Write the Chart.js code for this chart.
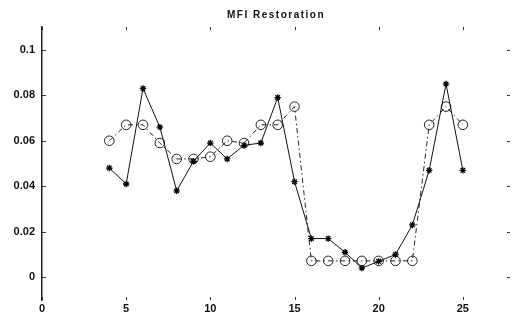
<!DOCTYPE html>
<html>
<head>
<meta charset="utf-8">
<script src="https://cdn.jsdelivr.net/npm/chart.js@4.4.1/dist/chart.umd.min.js"></script>
<style>
html,body{margin:0;padding:0;background:#fff;}
#wrap{width:516px;height:322px;}
</style>
</head>
<body>
<div id="wrap"><canvas id="c" width="516" height="322"></canvas></div>
<script>
const titleText = "MFI Restoration";
const xValues = [4,5,6,7,8,9,10,11,12,13,14,15,16,17,18,19,20,21,22,23,24,25];
const starSeries = [0.048,0.041,0.083,0.066,0.038,0.051,0.059,0.052,0.058,0.059,0.079,0.042,0.017,0.017,0.011,0.004,0.007,0.010,0.023,0.047,0.085,0.047];
const circleSeries = [0.060,0.067,0.067,0.059,0.052,0.052,0.053,0.060,0.059,0.067,0.067,0.075,0.0072,0.0072,0.0072,0.0072,0.0072,0.0072,0.0072,0.067,0.075,0.067];
const xTicks = [0,5,10,15,20,25];
const yTicks = [0,0.02,0.04,0.06,0.08,0.1];

const toPts = (ys) => xValues.map((x,i)=>({x:x,y:ys[i]}));

const tickMarks = {
  id:'tickMarks',
  afterLayout(chart){
    const tb = chart.titleBlock;
    if (tb && !tb._spaced) {
      const orig = tb.draw;
      tb.draw = function(a){
        const ctx = this.ctx || chart.ctx;
        ctx.save();
        ctx.letterSpacing = '1.5px';
        orig.call(this, a);
        ctx.restore();
      };
      tb._spaced = true;
    }
  },
  afterDraw(chart){
    const {ctx, chartArea:a, scales} = chart;
    ctx.save();
    ctx.strokeStyle = '#333';
    ctx.lineWidth = 1;
    ctx.beginPath();
    yTicks.forEach(v=>{
      const y = Math.round(scales.y.getPixelForValue(v))+0.5;
      ctx.moveTo(a.left, y); ctx.lineTo(a.left+4, y);
      ctx.moveTo(a.right, y); ctx.lineTo(a.right-3, y);
    });
    xTicks.forEach(v=>{
      const x = Math.round(scales.x.getPixelForValue(v))+0.5;
      ctx.moveTo(x, a.top); ctx.lineTo(x, a.top+3);
      ctx.moveTo(x, a.bottom); ctx.lineTo(x, a.bottom-3);
    });
    ctx.stroke();
    ctx.restore();
  }
};

new Chart(document.getElementById('c'), {
  type:'scatter',
  data:{
    datasets:[
      {
        label:'stars',
        data: toPts(starSeries),
        showLine:true,
        borderColor:'#111',
        backgroundColor:'#111',
        borderWidth:1,
        pointStyle:'star',
        pointRadius:3.2,
        pointBorderWidth:1.3,
        pointBorderColor:'#000'
      },
      {
        label:'circles',
        data: toPts(circleSeries),
        showLine:true,
        borderColor:'#222',
        backgroundColor:'rgba(0,0,0,0)',
        borderWidth:1,
        borderDash:[5,3,1.5,3],
        pointStyle:'circle',
        pointRadius:4.8,
        pointBorderWidth:1,
        pointBorderColor:'#222',
        pointBackgroundColor:'rgba(255,255,255,0)'
      }
    ]
  },
  options:{
    responsive:false,
    animation:false,
    layout:{padding:{left:0,right:6,top:0,bottom:0}},
    plugins:{
      legend:{display:false},
      tooltip:{enabled:false},
      title:{
        display:true,
        fullSize:false,
        text:titleText,
        color:'#111',
        font:{family:'Liberation Sans, Arial, sans-serif',size:10,weight:'bold',lineHeight:1.2},
        padding:{top:9,bottom:6}
      }
    },
    scales:{
      x:{
        type:'linear',
        min:0, max:27.8,
        afterBuildTicks(s){ s.ticks = xTicks.map(v=>({value:v})); },
        afterFit(s){ s.height = 22; },
        grid:{display:false, drawTicks:false},
        border:{display:false},
        ticks:{
          color:'#111', padding:2, maxRotation:0,
          font:{family:'Liberation Sans, Arial, sans-serif',size:11,weight:'bold'},
          callback:(v)=>String(v)
        }
      },
      y:{
        type:'linear',
        min:-0.01, max:0.11,
        afterBuildTicks(s){ s.ticks = yTicks.map(v=>({value:v})); },
        afterFit(s){ s.width = 42; },
        grid:{display:false, drawTicks:false},
        border:{display:true, color:'#222', width:1.5},
        ticks:{
          color:'#111', padding:7,
          font:{family:'Liberation Sans, Arial, sans-serif',size:11,weight:'bold'},
          callback:(v)=>String(Number(v.toFixed(2)))
        }
      }
    }
  },
  plugins:[tickMarks]
});
</script>
</body>
</html>
